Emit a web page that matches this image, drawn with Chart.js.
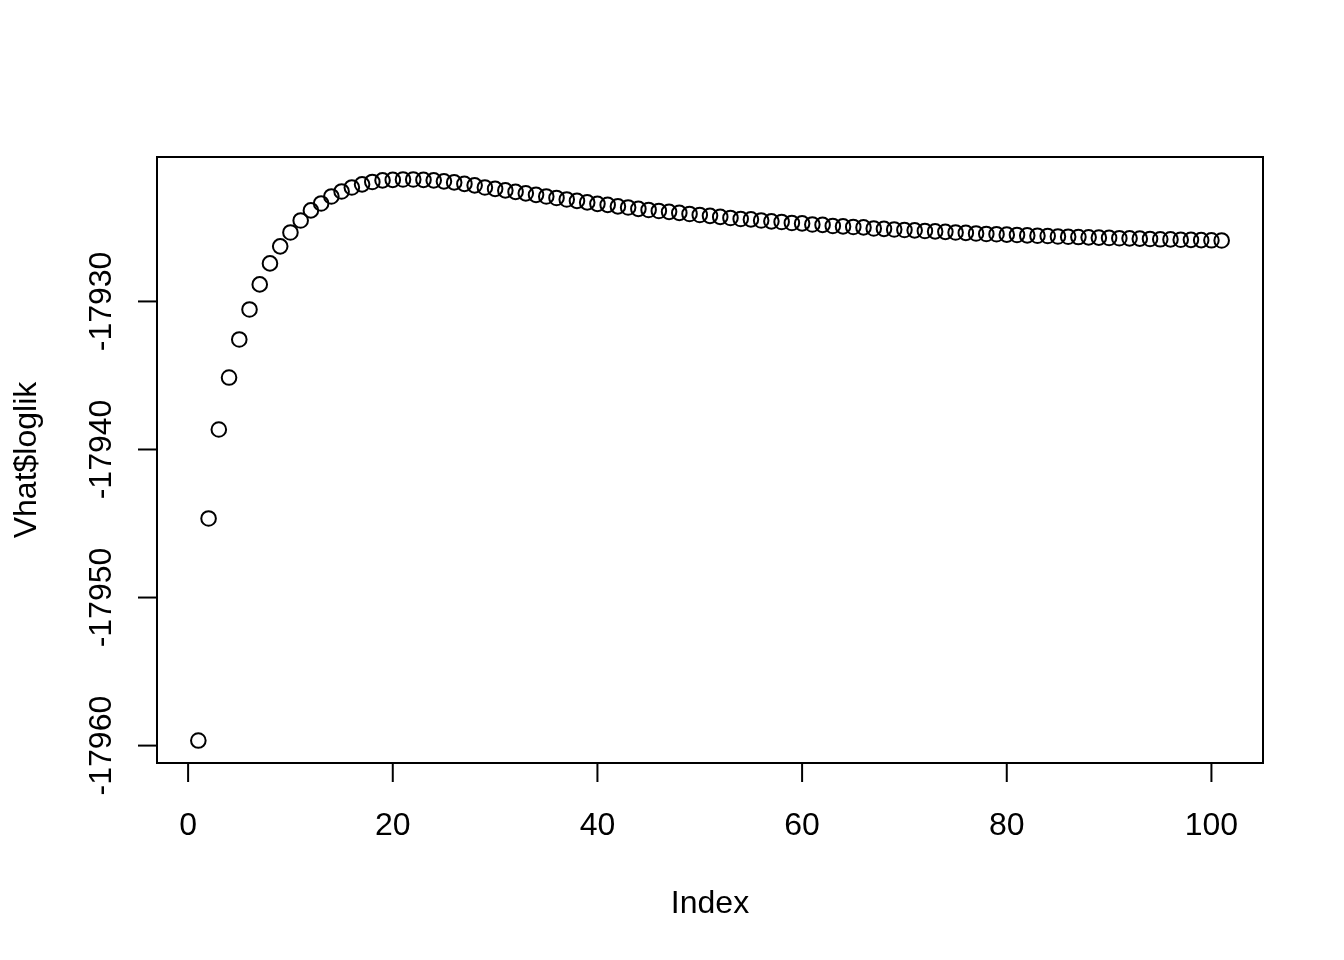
<!DOCTYPE html>
<html>
<head>
<meta charset="utf-8">
<script src="https://cdn.jsdelivr.net/npm/chart.js@4/dist/chart.umd.min.js"></script>
<style>
  html, body { margin: 0; padding: 0; background: #fff; }
  #wrap { width: 1344px; height: 960px; }
</style>
</head>
<body>
<div id="wrap"><canvas id="chart" width="1344" height="960"></canvas></div>
<script>
// Index of each iteration and the log-likelihood
var index = [1, 2, 3, 4, 5, 6, 7, 8, 9, 10, 11, 12, 13, 14, 15, 16, 17, 18, 19, 20,
  21, 22, 23, 24, 25, 26, 27, 28, 29, 30, 31, 32, 33, 34, 35, 36, 37, 38, 39, 40,
  41, 42, 43, 44, 45, 46, 47, 48, 49, 50, 51, 52, 53, 54, 55, 56, 57, 58, 59, 60,
  61, 62, 63, 64, 65, 66, 67, 68, 69, 70, 71, 72, 73, 74, 75, 76, 77, 78, 79, 80,
  81, 82, 83, 84, 85, 86, 87, 88, 89, 90, 91, 92, 93, 94, 95, 96, 97, 98, 99, 100, 101];

var loglik = [
  -17959.66, -17944.66, -17938.65, -17935.14, -17932.57, -17930.54, -17928.85, -17927.43, -17926.28, -17925.34,
  -17924.53, -17923.85, -17923.38, -17922.91, -17922.57, -17922.30, -17922.09, -17921.93, -17921.82, -17921.79,
  -17921.76, -17921.76, -17921.79, -17921.82, -17921.89, -17921.96, -17922.06, -17922.16, -17922.30, -17922.40,
  -17922.50, -17922.60, -17922.70, -17922.80, -17922.91, -17923.01, -17923.11, -17923.21, -17923.31, -17923.41,
  -17923.48, -17923.58, -17923.65, -17923.75, -17923.82, -17923.89, -17923.95, -17924.02, -17924.09, -17924.16,
  -17924.22, -17924.29, -17924.36, -17924.43, -17924.46, -17924.53, -17924.59, -17924.63, -17924.70, -17924.73,
  -17924.80, -17924.83, -17924.90, -17924.93, -17924.97, -17925.00, -17925.07, -17925.10, -17925.14, -17925.17,
  -17925.20, -17925.24, -17925.27, -17925.30, -17925.34, -17925.37, -17925.41, -17925.44, -17925.46, -17925.49,
  -17925.51, -17925.54, -17925.56, -17925.58, -17925.61, -17925.63, -17925.65, -17925.67, -17925.69, -17925.71,
  -17925.73, -17925.74, -17925.76, -17925.78, -17925.80, -17925.81, -17925.83, -17925.84, -17925.86, -17925.87,
  -17925.88];

var xTicks = [0, 20, 40, 60, 80, 100];
var yTicks = [-17960, -17950, -17940, -17930];
var xLabel = "Index";
var yLabel = "Vhat$loglik";

var points = index.map(function (x, i) { return { x: x, y: loglik[i] }; });

var FONT = '32px "Liberation Sans", Arial, Helvetica, sans-serif';

// R style frame, outward ticks and rotated y labels
var basePlot = {
  id: "basePlot",
  afterDraw: function (chart) {
    var ctx = chart.ctx;
    var a = chart.chartArea;
    var xs = chart.scales.x, ys = chart.scales.y;
    ctx.save();
    ctx.strokeStyle = "#000";
    ctx.fillStyle = "#000";
    ctx.lineWidth = 2;
    ctx.strokeRect(a.left, a.top, a.right - a.left, a.bottom - a.top);

    ctx.font = FONT;
    ctx.textAlign = "center";
    ctx.textBaseline = "alphabetic";

    // x axis
    xTicks.forEach(function (v) {
      var px = xs.getPixelForValue(v);
      ctx.beginPath();
      ctx.moveTo(px, a.bottom + 19); ctx.lineTo(px, a.bottom);
      ctx.stroke();
      ctx.fillText(String(v), px, 835);
    });

    // y axis
    yTicks.forEach(function (v) {
      var py = ys.getPixelForValue(v);
      ctx.beginPath();
      ctx.moveTo(a.left - 19, py); ctx.lineTo(a.left, py);
      ctx.stroke();
      ctx.save();
      ctx.translate(111, py);
      ctx.rotate(-Math.PI / 2);
      ctx.fillText(String(v), 0, 0);
      ctx.restore();
    });

    // axis titles
    ctx.fillText(xLabel, (a.left + a.right) / 2, 913);
    ctx.save();
    ctx.translate(36, (a.top + a.bottom) / 2);
    ctx.rotate(-Math.PI / 2);
    ctx.fillText(yLabel, 0, 0);
    ctx.restore();
    ctx.restore();
  }
};

new Chart(document.getElementById("chart").getContext("2d"), {
  type: "scatter",
  data: {
    datasets: [{
      data: points,
      pointStyle: "circle",
      pointRadius: 7.3,
      pointHoverRadius: 7.3,
      pointBorderWidth: 2,
      pointBorderColor: "#000",
      pointBackgroundColor: "rgba(0,0,0,0)",
      borderColor: "#000",
      backgroundColor: "rgba(0,0,0,0)",
      clip: false
    }]
  },
  options: {
    responsive: false,
    animation: false,
    devicePixelRatio: 1,
    layout: { padding: { left: 157, top: 157, right: 81, bottom: 197 } },
    plugins: { legend: { display: false }, tooltip: { enabled: false } },
    scales: {
      x: { type: "linear", display: false, min: -3.04, max: 105.04 },
      y: { type: "linear", display: false, min: -17961.176, max: -17920.244 }
    }
  },
  plugins: [basePlot]
});
</script>
</body>
</html>
